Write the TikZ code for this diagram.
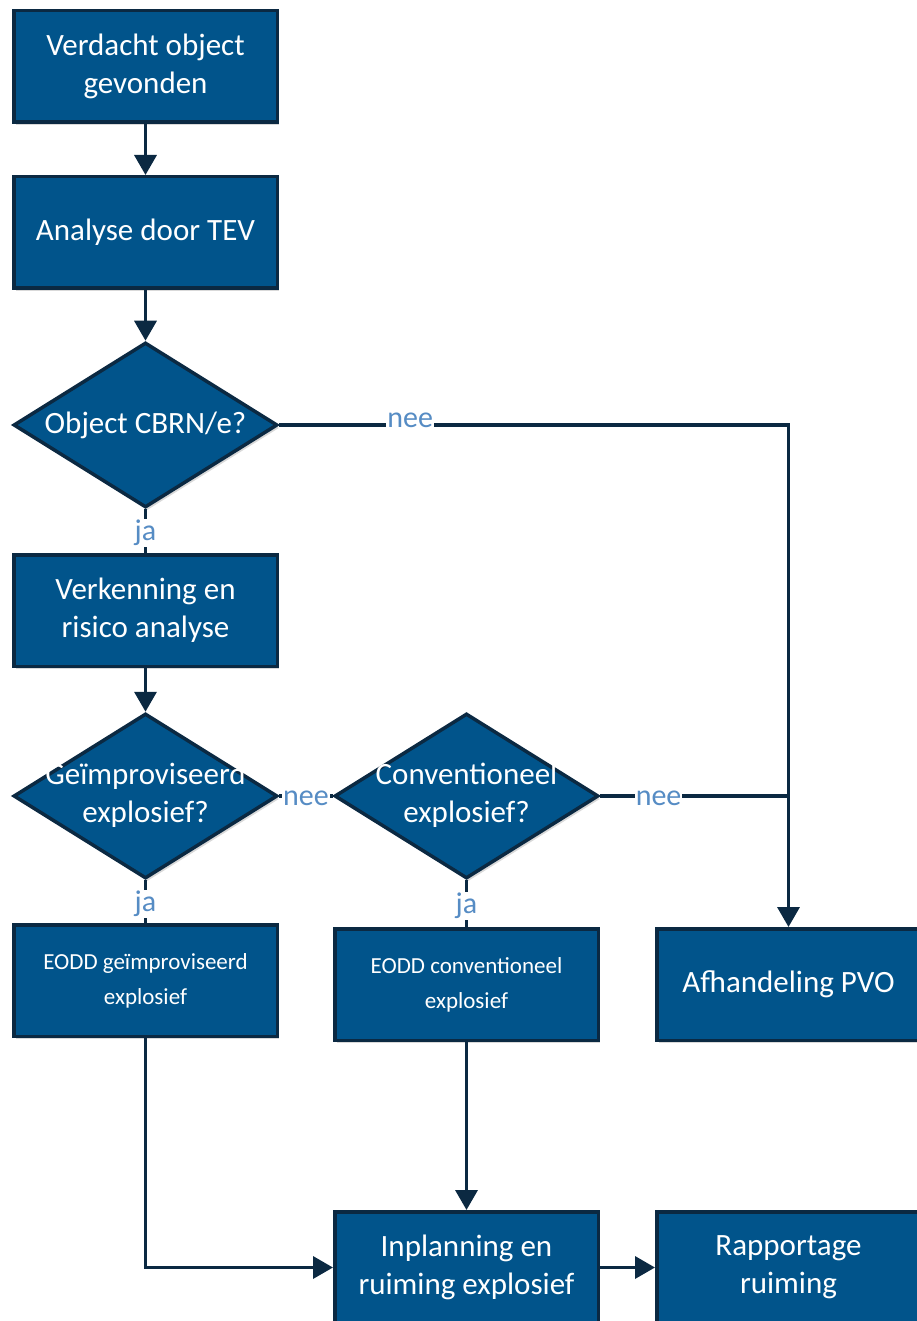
\documentclass[tikz,border=0pt]{standalone}
\usepackage{fontspec}
\setmainfont{Carlito}
\usetikzlibrary{shapes.geometric,arrows.meta,shadows}
\definecolor{boxfill}{RGB}{1,84,139}
\definecolor{boxline}{RGB}{11,41,66}
\definecolor{lblcol}{RGB}{86,140,196}
\newcommand\dtext[1]{\makebox[0pt]{\begin{tabular}{@{}c@{}}#1\end{tabular}}}
\begin{document}
\begin{tikzpicture}[x=1pt,y=-1pt,
  base/.style={draw=boxline, line width=3.5pt, fill=boxfill, text=white,
    drop shadow={shadow xshift=2pt, shadow yshift=-3pt, opacity=.25, fill=black!60}},
  proc/.style={base, rectangle, minimum width=263.5pt, minimum height=111.5pt, inner sep=0pt,
    align=center, font=\fontsize{31}{38}\selectfont},
  small/.style={proc, font=\fontsize{23}{35}\selectfont},
  dec/.style={base, diamond, minimum width=264pt, minimum height=165pt, inner sep=0pt,
    font=\fontsize{31}{38}\selectfont},
  conn/.style={draw=boxline, line width=3.5pt},
  arr/.style={conn, -{Triangle[length=20pt,width=22pt]}},
  lbl/.style={fill=white, text=lblcol, inner sep=1pt, yshift=-2pt, font=\fontsize{30}{36}\selectfont}]
\useasboundingbox (0,0) rectangle (916,1321);

\node[proc] (n1) at (145.5,66.5) {Verdacht object\\gevonden};
\node[proc] (n2) at (145.5,232.5) {Analyse door TEV};
\node[dec] (d1) at (145.5,425) {\makebox[0pt]{Object CBRN/e?}};
\node[proc] (n3) at (145.5,610.5) {Verkenning en\\risico analyse};
\node[dec] (d2) at (145.5,796) {\dtext{Geïmproviseerd\\explosief?}};
\node[dec] (d3) at (466.5,796) {\dtext{Conventioneel\\explosief?}};
\node[small] (e1) at (145.5,980.5) {EODD geïmproviseerd\\explosief};
\node[small] (e2) at (466.5,984.5) {EODD conventioneel\\explosief};
\node[proc] (afh) at (788.5,984.5) {Afhandeling PVO};
\node[proc] (inp) at (466.5,1267.5) {Inplanning en\\ruiming explosief};
\node[proc] (rap) at (788.5,1267.5) {Rapportage\\ruiming};

\draw[arr] (n1) -- (n2);
\draw[arr] (n2) -- (d1);
\draw[arr] (d1.east) -- node[lbl, pos=0.257, yshift=7pt]{nee} (d1.east -| afh.north) -- (afh.north);
\draw[conn] (d1.south) -- node[lbl]{ja} (n3.north);
\draw[arr] (n3) -- (d2);
\draw[conn] (d2.east) -- node[lbl]{nee} (d3.west);
\coordinate (join) at (d3.east -| afh.north);
\draw[conn] (d3.east) -- node[lbl, pos=0.31]{nee} (join);
\draw[conn] (d2.south) -- node[lbl]{ja} (e1.north);
\draw[conn] (d3.south) -- node[lbl]{ja} (e2.north);
\draw[arr] (e1.south) |- (inp.west);
\draw[arr] (e2) -- (inp);
\draw[arr] (inp) -- (rap);
\end{tikzpicture}
\end{document}
